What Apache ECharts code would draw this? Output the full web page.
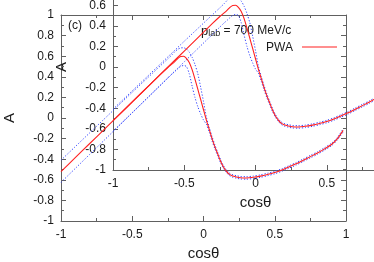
<!DOCTYPE html>
<html><head><meta charset="utf-8">
<script src="https://cdn.jsdelivr.net/npm/echarts@6/dist/echarts.min.js"></script>
<style>html,body{margin:0;padding:0;background:#fff}#c{width:374px;height:262px}</style>
</head><body><div id="c"></div>
<script>
// cos(theta) sample points
const cosTheta = [-1.00,-0.90,-0.80,-0.70,-0.60,-0.50,-0.40,-0.30,-0.25,-0.22,-0.20,-0.18,-0.16,-0.14,-0.12,-0.10,-0.08,-0.06,-0.04,-0.02,0.00,0.02,0.04,0.06,0.08,0.10,0.12,0.14,0.16,0.18,0.20,0.23,0.26,0.30,0.35,0.40,0.45,0.50,0.55,0.60,0.65,0.70,0.75,0.80,0.85,0.90,0.94,0.98];
// PWA central value of A
const pwa = [-0.520,-0.385,-0.250,-0.115,0.020,0.155,0.290,0.425,0.490,0.525,0.550,0.578,0.598,0.600,0.580,0.540,0.470,0.378,0.280,0.180,0.080,-0.020,-0.110,-0.200,-0.280,-0.350,-0.420,-0.475,-0.515,-0.545,-0.560,-0.572,-0.580,-0.582,-0.576,-0.564,-0.548,-0.530,-0.505,-0.475,-0.445,-0.410,-0.375,-0.340,-0.300,-0.255,-0.200,-0.120];
// upper error band
const pwaUpper = [-0.410,-0.278,-0.146,-0.014,0.118,0.250,0.380,0.510,0.575,0.615,0.645,0.668,0.680,0.682,0.670,0.640,0.590,0.520,0.430,0.300,0.160,0.010,-0.090,-0.180,-0.262,-0.335,-0.405,-0.462,-0.503,-0.533,-0.548,-0.560,-0.568,-0.570,-0.564,-0.552,-0.536,-0.518,-0.493,-0.463,-0.433,-0.398,-0.363,-0.328,-0.288,-0.243,-0.188,-0.105];
// lower error band
const pwaLower = [-0.625,-0.490,-0.355,-0.220,-0.085,0.050,0.185,0.320,0.388,0.428,0.452,0.478,0.500,0.510,0.500,0.430,0.310,0.200,0.110,0.040,-0.020,-0.060,-0.135,-0.222,-0.300,-0.368,-0.435,-0.488,-0.527,-0.557,-0.572,-0.584,-0.592,-0.594,-0.588,-0.576,-0.560,-0.542,-0.517,-0.487,-0.457,-0.422,-0.387,-0.352,-0.312,-0.267,-0.212,-0.135];
// axis ticks
const xTicks = [-1, -0.5, 0, 0.5, 1];
const yTicks = [-1, -0.8, -0.6, -0.4, -0.2, 0, 0.2, 0.4, 0.6, 0.8, 1];

const FONT = 'Liberation Sans, Arial, Helvetica, sans-serif';
const AX = '#606060';
const LBL = '#1a1a1a';

const grids = [
  {left: 61, top: 15, width: 285, height: 206, containLabel: false, outerBoundsMode: 'none'},
  {left: 113, top: -36, width: 285, height: 206, containLabel: false, outerBoundsMode: 'none'}
];

function pairs(arr) { return cosTheta.map((x, i) => [x, arr[i]]); }

const xAxis = [], yAxis = [], series = [];
grids.forEach((g, gi) => {
  const common = {
    type: 'value', gridIndex: gi,
    axisLine: {show: true, onZero: false, lineStyle: {color: AX, width: 1}},
    axisTick: {show: true, inside: true, length: 5, lineStyle: {color: AX}},
    minorTick: {show: true, splitNumber: 2, length: 3, lineStyle: {color: AX}},
    splitLine: {show: false}
  };
  xAxis.push(Object.assign({}, common, {
    position: 'bottom', min: xTicks[0], max: xTicks[xTicks.length - 1], interval: xTicks[1] - xTicks[0],
    axisLabel: {margin: 8, color: LBL, fontSize: 12, fontFamily: FONT},
    name: 'cosθ', nameLocation: 'middle', nameGap: 21,
    nameTextStyle: {fontSize: 15, color: LBL, fontFamily: FONT}
  }));
  xAxis.push(Object.assign({}, common, {
    position: 'top', min: xTicks[0], max: xTicks[xTicks.length - 1], interval: xTicks[1] - xTicks[0],
    axisLabel: {show: false}
  }));
  yAxis.push(Object.assign({}, common, {
    position: 'left', min: yTicks[0], max: yTicks[yTicks.length - 1], interval: +(yTicks[1] - yTicks[0]).toFixed(2),
    axisLabel: {margin: 7, color: LBL, fontSize: 12, fontFamily: FONT},
    name: 'A', nameLocation: 'middle', nameGap: 44, nameRotate: 90,
    nameTextStyle: {fontSize: 15, color: LBL, fontFamily: FONT}
  }));
  yAxis.push(Object.assign({}, common, {
    position: 'right', min: yTicks[0], max: yTicks[yTicks.length - 1], interval: +(yTicks[1] - yTicks[0]).toFixed(2),
    axisLabel: {show: false}
  }));
  const ai = gi * 2;
  series.push({type: 'line', xAxisIndex: ai, yAxisIndex: ai, data: pairs(pwaUpper), symbol: 'none', silent: true, smooth: 0.25,
    lineStyle: {color: '#3344ff', width: 1, type: [1.2, 1.8]}, z: 2});
  series.push({type: 'line', xAxisIndex: ai, yAxisIndex: ai, data: pairs(pwaLower), symbol: 'none', silent: true, smooth: 0.25,
    lineStyle: {color: '#3344ff', width: 1, type: [1.2, 1.8]}, z: 2});
  series.push({type: 'line', name: 'PWA', xAxisIndex: ai, yAxisIndex: ai, data: pairs(pwa), symbol: 'none', silent: true, smooth: 0.25,
    lineStyle: {color: '#ff2020', width: 1.1}, z: 3});
});

const chart = echarts.init(document.getElementById('c'), null, {renderer: 'canvas'});
chart.setOption({
  animation: false,
  backgroundColor: '#ffffff',
  grid: grids,
  xAxis: xAxis,
  yAxis: yAxis,
  series: series,
  graphic: [
    {type: 'text', x: 75, y: 26, style: {text: '(c)', fontSize: 12, fontFamily: FONT, fill: LBL, textAlign: 'center', textVerticalAlign: 'middle'}},
    {type: 'text', x: 201, y: 31, style: {
      text: '{p|p}{s|lab}{n| = 700 MeV/c}', fontSize: 12, fontFamily: FONT, fill: LBL, textVerticalAlign: 'middle',
      rich: {p: {fontSize: 13, fontFamily: FONT, fill: LBL}, s: {fontSize: 9, fontFamily: FONT, fill: LBL, padding: [6, 0, 0, 0]}, n: {fontSize: 12, fontFamily: FONT, fill: LBL}}
    }},
    {type: 'text', x: 293, y: 47.5, style: {text: 'PWA', fontSize: 12, fontFamily: FONT, fill: LBL, textAlign: 'right', textVerticalAlign: 'middle'}},
    {type: 'line', shape: {x1: 302, y1: 47, x2: 337, y2: 47}, style: {stroke: '#ff2020', lineWidth: 1.2}}
  ]
});
</script>
</body></html>
